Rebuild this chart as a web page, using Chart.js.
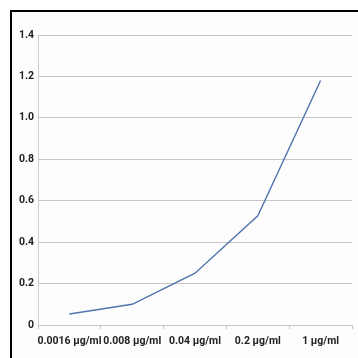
<!DOCTYPE html>
<html lang="en">
<head>
    <meta charset="UTF-8">
    <title>Concentration chart</title>
    <style>
        body {
            margin: 0;
            background-color: #fff;
        }
        .frame {
            position: absolute;
            left: 10px;
            top: 10px;
            width: 348px;
            height: 348px;
            border-left: 2px solid #000;
            border-top: 2px solid #000;
            background-color: #fdfdfd;
        }
        #chart {
            position: absolute;
            left: 1px;
            top: 1px;
        }
    </style>
    <script src="https://cdn.jsdelivr.net/npm/chart.js"></script>
</head>
<body>
    <div class="frame">
        <canvas id="chart" width="345" height="345"></canvas>
    </div>

    <script>
        // data
        const categories = ['0.0016 \u00b5g/ml', '0.008 \u00b5g/ml', '0.04 \u00b5g/ml', '0.2 \u00b5g/ml', '1 \u00b5g/ml'];
        const values = [0.053, 0.10, 0.25, 0.527, 1.18];
        const yTicks = [0, 0.2, 0.4, 0.6, 0.8, 1.0, 1.2, 1.4];

        const tickFont = {
            family: 'Roboto, "Liberation Sans", sans-serif',
            size: 10.5,
            weight: 'bold'
        };

        const ctx = document.getElementById('chart').getContext('2d');
        const chart = new Chart(ctx, {
            type: 'line',
            data: {
                labels: categories,
                datasets: [{
                    data: values,
                    borderColor: '#5174ad',
                    borderWidth: 1.4,
                    pointRadius: 0,
                    tension: 0,
                    fill: false
                }]
            },
            options: {
                responsive: false,
                animation: false,
                layout: {
                    padding: { top: 22, right: 6, left: 0, bottom: 0 }
                },
                plugins: {
                    legend: { display: false },
                    tooltip: { enabled: false }
                },
                scales: {
                    x: {
                        offset: true,
                        grid: {
                            offset: true,
                            drawOnChartArea: false,
                            drawTicks: true,
                            tickLength: 4,
                            color: '#c6c6c6'
                        },
                        border: { color: '#c6c6c6', width: 1 },
                        ticks: {
                            font: tickFont,
                            color: '#222',
                            padding: 6,
                            maxRotation: 0,
                            autoSkip: false
                        },
                        afterFit: (scale) => { scale.height = 33; }
                    },
                    y: {
                        min: yTicks[0],
                        max: yTicks[yTicks.length - 1],
                        afterBuildTicks: (scale) => {
                            scale.ticks = yTicks.map(v => ({ value: v }));
                        },
                        grid: {
                            color: '#c6c6c6',
                            drawTicks: false
                        },
                        border: { color: '#d0d0d0', width: 1 },
                        ticks: {
                            font: tickFont,
                            color: '#222',
                            padding: 4,
                            callback: (v) => v === 0 ? '0' : Number(v).toFixed(1)
                        },
                        afterFit: (scale) => { scale.width = 25; }
                    }
                }
            }
        });
    </script>
</body>
</html>
